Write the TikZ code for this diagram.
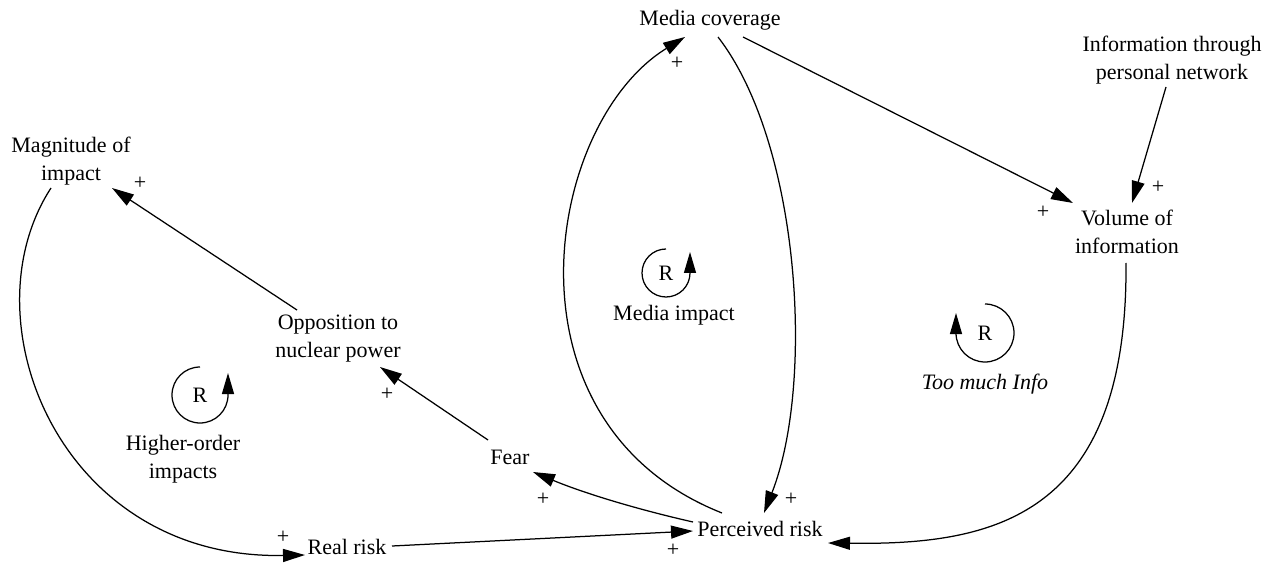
\documentclass[tikz,border=0pt]{standalone}
\usepackage{fontspec}
\setmainfont{Liberation Serif}
\usetikzlibrary{arrows.meta,calc}
\tikzset{
  var/.style={align=center, inner sep=0pt, font=\fontsize{22}{28}\selectfont},
  pl/.style={inner sep=0pt, font=\fontsize{22}{28}\selectfont},
  link/.style={line width=1.25pt, -{Triangle[length=22pt,width=13pt]}},
  loopar/.style={line width=1.25pt, -{Triangle[length=21pt,width=12pt]}},
}
\begin{document}
\begin{tikzpicture}[x=1pt,y=1pt]
\useasboundingbox (0,0) rectangle (1269,563);
% variables
\node[var] (mc) at (710,543) {Media coverage};
\node[var] (info) at (1172,503) {Information through\\personal network};
\node[var] (mag) at (71,402) {Magnitude of\\impact};
\node[var] (vol) at (1127,331) {Volume of\\information};
\node[var] (opp) at (338,224) {Opposition to\\nuclear power};
\node[var] (fear) at (510,106) {Fear};
\node[var] (pr) at (760,34) {Perceived risk};
\node[var] (rr) at (347,16) {Real risk};
% loop markers
\node[var] (r1) at (200,168) {R};
\node[var] (l1) at (183,104) {Higher-order\\impacts};
\node[var] (r2) at (666,290) {R};
\node[var] (l2) at (674,248) {Media impact};
\node[var] (r3) at (985,230) {R};
\node[var, font=\fontsize{22}{28}\selectfont\itshape] (l3) at (985,179) {Too much Info};
\draw[loopar] ($(r1)+(0,28)$) arc[start angle=90,end angle=360,radius=28] -- ++(0,22);
\draw[loopar] ($(r2)+(0,24)$) arc[start angle=90,end angle=360,radius=24] -- ++(0,21);
\draw[loopar] ($(r3)+(0,29)$) arc[start angle=90,end angle=-180,radius=29] -- ++(0,20);
% links
\draw[link] ($(opp)+(-41,29)$) -- ($(mag)+(41,-27)$);
\draw[link] ($(fear)+(-22,17)$) -- ($(opp)+(42,-28)$);
\draw[link] ($(pr)+(-67,7)$) .. controls (640,53) and (586,69) .. ($(fear)+(23,-15)$);
\draw[link] ($(rr)+(45,1)$) -- ($(pr)+(-67,-2)$);
\draw[link] ($(mag)+(-20,-27)$) .. controls (-35,243) and (60,3) .. ($(rr)+(-42,-8)$);
\draw[link] ($(pr)+(-38,16)$) .. controls (495,140) and (545,440) .. ($(mc)+(-25,-17)$);
\draw[link] ($(mc)+(8,-17)$) .. controls (800,420) and (815,180) .. ($(pr)+(4,16)$);
\draw[link] ($(mc)+(33,-17)$) -- ($(vol)+(-54,29)$);
\draw[link] ($(info)+(-6,-27)$) -- ($(vol)+(5,29)$);
\draw[link] ($(vol)+(-1,-31)$) .. controls (1128,43) and (990,18) .. ($(pr)+(68,-14)$);
% polarities
\node[pl] (p1) at (677,500) {+};
\node[pl] (p2) at (140,380) {+};
\node[pl] (p3) at (387,169) {+};
\node[pl] (p4) at (543,64) {+};
\node[pl] (p5) at (791,64) {+};
\node[pl] (p6) at (673,13) {+};
\node[pl] (p7) at (283,26) {+};
\node[pl] (p8) at (1043,351) {+};
\node[pl] (p9) at (1158,376) {+};
\end{tikzpicture}
\end{document}
